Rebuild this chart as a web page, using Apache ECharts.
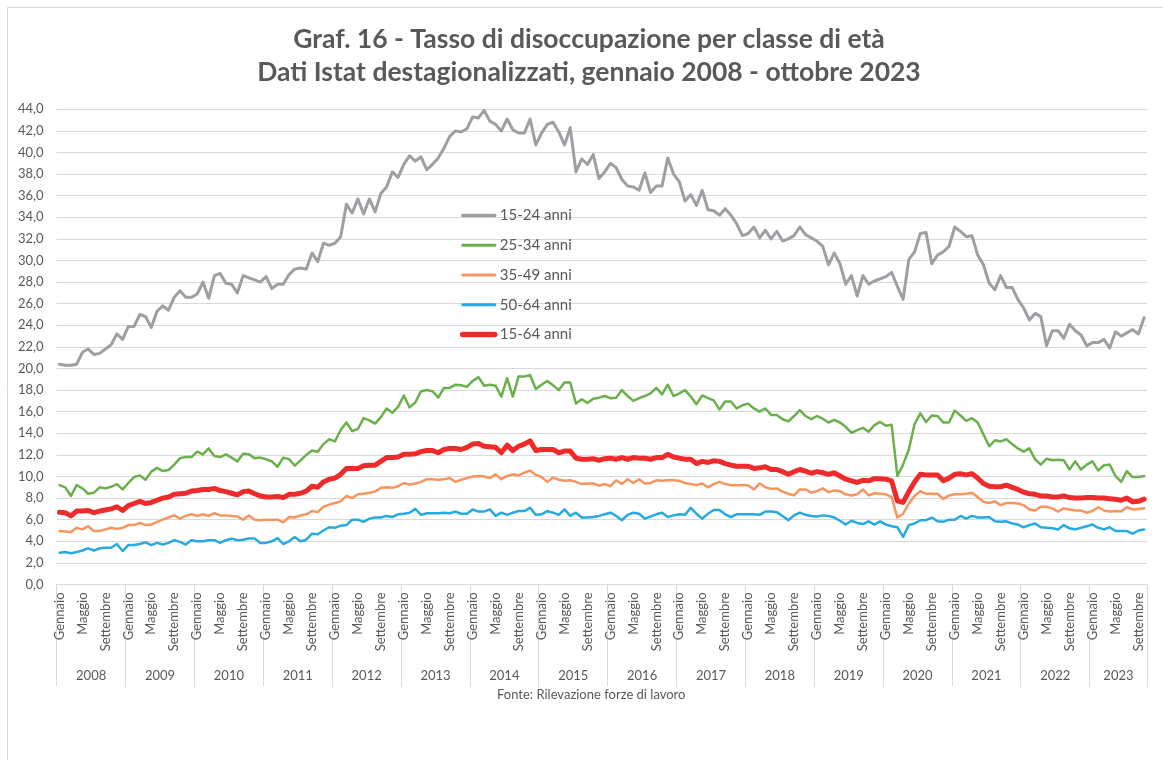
<!DOCTYPE html>
<html lang="it">
<head>
<meta charset="utf-8">
<title>Graf. 16 - Tasso di disoccupazione per classe di età</title>
<script src="https://cdn.jsdelivr.net/npm/echarts@6/dist/echarts.min.js"></script>
<style>
  html, body { margin: 0; padding: 0; background: #fff; }
  #chart { width: 1163px; height: 760px; }
</style>
</head>
<body>
<div id="chart"></div>
<script>
const anni = [2008, 2009, 2010, 2011, 2012, 2013, 2014, 2015, 2016, 2017, 2018, 2019, 2020, 2021, 2022, 2023]
const nomiMesi = ['Gennaio', 'Febbraio', 'Marzo', 'Aprile', 'Maggio', 'Giugno',
  'Luglio', 'Agosto', 'Settembre', 'Ottobre', 'Novembre', 'Dicembre']
const mesiUltimoAnno = 10 // dati fino a ottobre 2023

const classi = ['15-24 anni', '25-34 anni', '35-49 anni', '50-64 anni', '15-64 anni']

// valori mensili, una riga per anno
const anni15_24 = [
  20.4, 20.3, 20.3, 20.4, 21.5, 21.8, 21.3, 21.4, 21.8, 22.2, 23.2, 22.7,
  23.9, 23.9, 25.0, 24.8, 23.8, 25.3, 25.8, 25.4, 26.6, 27.2, 26.6, 26.6,
  26.9, 28.0, 26.5, 28.6, 28.8, 27.9, 27.8, 27.0, 28.6, 28.4, 28.2, 28.0,
  28.5, 27.4, 27.8, 27.8, 28.7, 29.2, 29.3, 29.2, 30.7, 29.9, 31.6, 31.4,
  31.6, 32.2, 35.2, 34.4, 35.7, 34.3, 35.7, 34.5, 36.2, 36.8, 38.2, 37.7,
  38.9, 39.7, 39.2, 39.6, 38.4, 38.9, 39.5, 40.4, 41.5, 42.0, 41.9, 42.2,
  43.3, 43.2, 43.9, 42.9, 42.6, 42.0, 43.1, 42.1, 41.8, 41.8, 43.1, 40.7,
  41.8, 42.6, 42.8, 41.9, 40.7, 42.3, 38.2, 39.4, 38.9, 39.8, 37.6, 38.2,
  39.0, 38.6, 37.5, 36.9, 36.8, 36.5, 38.1, 36.3, 36.9, 36.9, 39.5, 38.0,
  37.3, 35.5, 36.1, 35.1, 36.5, 34.7, 34.6, 34.2, 34.8, 34.2, 33.4, 32.3,
  32.5, 33.1, 32.1, 32.8, 32.0, 32.7, 31.8, 32.0, 32.3, 33.1, 32.4, 32.1,
  31.8, 31.3, 29.6, 30.7, 29.7, 27.8, 28.6, 26.7, 28.6, 27.8, 28.1, 28.3,
  28.5, 28.9, 27.6, 26.4, 30.1, 30.8, 32.5, 32.6, 29.7, 30.5, 30.8, 31.3,
  33.1, 32.7, 32.2, 32.3, 30.5, 29.6, 27.9, 27.3, 28.6, 27.5, 27.5, 26.4,
  25.6, 24.5, 25.1, 24.8, 22.1, 23.5, 23.5, 22.8, 24.1, 23.5, 23.1, 22.1,
  22.4, 22.4, 22.7, 21.9, 23.4, 23.0, 23.3, 23.6, 23.2, 24.7,
]
const anni25_34 = [
  9.2, 9.0, 8.2, 9.2, 8.9, 8.4, 8.5, 9.0, 8.9, 9.05, 9.3, 8.8,
  9.4, 9.95, 10.1, 9.7, 10.45, 10.8, 10.5, 10.6, 11.1, 11.7, 11.8, 11.8,
  12.3, 12.05, 12.6, 11.9, 11.8, 12.05, 11.75, 11.4, 12.1, 12.05, 11.7, 11.75,
  11.6, 11.4, 10.9, 11.75, 11.6, 11.0, 11.5, 12.0, 12.4, 12.3, 13.0, 13.45,
  13.25, 14.3, 15.0, 14.2, 14.4, 15.4, 15.2, 14.9, 15.5, 16.3, 15.9, 16.45,
  17.5, 16.4, 16.85, 17.9, 18.0, 17.9, 17.3, 18.2, 18.2, 18.5, 18.45, 18.3,
  18.85, 19.2, 18.4, 18.5, 18.4, 17.4, 19.1, 17.4, 19.25, 19.25, 19.4, 18.1,
  18.5, 18.85, 18.45, 18.0, 18.7, 18.7, 16.75, 17.15, 16.8, 17.2, 17.3, 17.45,
  17.25, 17.3, 18.0, 17.45, 17.0, 17.25, 17.45, 17.7, 18.2, 17.6, 18.5, 17.45,
  17.7, 18.0, 17.4, 16.7, 17.5, 17.25, 17.05, 16.2, 16.95, 16.95, 16.3, 16.6,
  16.75, 16.3, 16.0, 16.3, 15.7, 15.7, 15.3, 15.1, 15.6, 16.15, 15.6, 15.3,
  15.6, 15.35, 15.0, 15.25, 15.0, 14.6, 14.05, 14.3, 14.5, 14.15, 14.75, 15.05,
  14.7, 14.8, 10.05, 11.1, 12.5, 14.85, 15.85, 15.05, 15.65, 15.6, 15.0, 15.0,
  16.1, 15.65, 15.15, 15.4, 15.0, 13.9, 12.8, 13.35, 13.25, 13.45, 13.0, 12.6,
  12.3, 12.6, 11.6, 11.1, 11.65, 11.5, 11.55, 11.5, 10.65, 11.4, 10.65, 11.1,
  11.4, 10.55, 11.05, 11.1, 10.05, 9.5, 10.5, 9.95, 9.95, 10.05,
]
const anni35_49 = [
  4.95, 4.9, 4.85, 5.25, 5.1, 5.4, 4.95, 4.95, 5.1, 5.25, 5.15, 5.25,
  5.5, 5.5, 5.7, 5.5, 5.55, 5.8, 6.0, 6.2, 6.4, 6.1, 6.35, 6.5,
  6.35, 6.5, 6.35, 6.6, 6.4, 6.4, 6.35, 6.3, 6.0, 6.4, 6.0, 5.95,
  6.0, 6.0, 6.0, 5.75, 6.25, 6.2, 6.4, 6.5, 6.8, 6.7, 7.2, 7.4,
  7.55, 7.7, 8.2, 8.0, 8.35, 8.4, 8.5, 8.6, 8.95, 9.0, 8.95, 9.1,
  9.4, 9.25, 9.35, 9.5, 9.75, 9.75, 9.7, 9.75, 9.85, 9.5, 9.7, 9.85,
  10.0, 10.05, 10.0, 9.85, 10.2, 9.75, 10.05, 10.2, 10.1, 10.35, 10.55, 10.15,
  9.95, 9.5, 9.9, 9.7, 9.6, 9.65, 9.5, 9.3, 9.35, 9.35, 9.15, 9.3,
  9.1, 9.65, 9.3, 9.75, 9.4, 9.75, 9.35, 9.4, 9.65, 9.6, 9.65, 9.65,
  9.6, 9.4, 9.3, 9.2, 9.35, 9.0, 9.3, 9.5, 9.3, 9.2, 9.2, 9.2,
  9.2, 8.8, 9.35, 9.0, 8.85, 8.9, 8.6, 8.4, 8.25, 8.8, 8.8, 8.5,
  8.65, 8.9, 8.55, 8.7, 8.65, 8.35, 8.25, 8.35, 8.8, 8.25, 8.45, 8.4,
  8.35, 8.1, 6.2, 6.55, 7.5, 8.2, 8.65, 8.4, 8.4, 8.4, 7.9, 8.25,
  8.35, 8.35, 8.4, 8.5, 8.1, 7.65, 7.55, 7.7, 7.35, 7.55, 7.55, 7.5,
  7.35, 6.95, 6.85, 7.2, 7.2, 7.05, 6.75, 7.05, 6.95, 6.85, 6.85, 6.65,
  6.8, 7.15, 6.85, 6.75, 6.8, 6.75, 7.15, 6.95, 7.0, 7.05,
]
const anni50_64 = [
  2.95, 3.0, 2.9, 3.0, 3.15, 3.35, 3.15, 3.35, 3.4, 3.4, 3.75, 3.1,
  3.65, 3.65, 3.75, 3.9, 3.65, 3.85, 3.7, 3.85, 4.1, 3.95, 3.7, 4.1,
  4.0, 4.0, 4.1, 4.1, 3.85, 4.1, 4.25, 4.1, 4.15, 4.25, 4.25, 3.85,
  3.85, 4.0, 4.3, 3.75, 4.0, 4.4, 4.0, 4.15, 4.7, 4.65, 5.0, 5.3,
  5.25, 5.45, 5.5, 6.0, 6.0, 5.8, 6.1, 6.2, 6.2, 6.35, 6.25, 6.5,
  6.55, 6.65, 7.0, 6.45, 6.6, 6.6, 6.6, 6.65, 6.6, 6.75, 6.55, 6.55,
  6.95, 6.75, 6.75, 6.95, 6.35, 6.65, 6.45, 6.65, 6.8, 6.8, 7.1, 6.45,
  6.5, 6.8, 6.65, 6.45, 6.95, 6.35, 6.65, 6.2, 6.2, 6.25, 6.35, 6.5,
  6.65, 6.35, 5.95, 6.45, 6.65, 6.55, 6.1, 6.3, 6.5, 6.65, 6.25, 6.4,
  6.5, 6.45, 7.1, 6.55, 6.1, 6.55, 6.9, 6.9, 6.5, 6.25, 6.5, 6.5,
  6.5, 6.5, 6.45, 6.75, 6.75, 6.7, 6.35, 5.95, 6.4, 6.65, 6.45, 6.35,
  6.3, 6.4, 6.35, 6.2, 5.9, 5.55, 5.9, 5.7, 5.6, 5.85, 5.55, 5.85,
  5.55, 5.4, 5.3, 4.4, 5.5, 5.65, 5.95, 5.95, 6.2, 5.85, 5.8, 6.0,
  6.0, 6.35, 6.1, 6.35, 6.2, 6.2, 6.25, 5.85, 5.8, 5.85, 5.65, 5.55,
  5.3, 5.5, 5.65, 5.3, 5.25, 5.2, 5.1, 5.5, 5.2, 5.1, 5.25, 5.4,
  5.55, 5.25, 5.1, 5.3, 4.95, 4.95, 4.95, 4.7, 5.0, 5.1,
]
const anni15_64 = [
  6.7, 6.65, 6.35, 6.8, 6.8, 6.85, 6.65, 6.8, 6.9, 7.0, 7.2, 6.85,
  7.3, 7.5, 7.7, 7.5, 7.6, 7.8, 8.0, 8.1, 8.35, 8.4, 8.45, 8.65,
  8.7, 8.8, 8.8, 8.9, 8.7, 8.6, 8.45, 8.3, 8.6, 8.65, 8.4, 8.2,
  8.1, 8.1, 8.15, 8.05, 8.35, 8.35, 8.45, 8.65, 9.1, 9.0, 9.5, 9.75,
  9.85, 10.2, 10.75, 10.75, 10.75, 11.0, 11.05, 11.05, 11.4, 11.75, 11.75, 11.8,
  12.05, 12.05, 12.1, 12.3, 12.4, 12.4, 12.2, 12.5, 12.6, 12.6, 12.5, 12.7,
  13.0, 13.05, 12.8, 12.75, 12.7, 12.2, 12.9, 12.4, 12.8, 13.0, 13.3, 12.4,
  12.5, 12.5, 12.5, 12.2, 12.35, 12.35, 11.7, 11.6, 11.6, 11.65, 11.5, 11.65,
  11.7, 11.6, 11.75, 11.6, 11.75, 11.7, 11.7, 11.6, 11.75, 11.75, 12.05, 11.8,
  11.7, 11.6, 11.6, 11.2, 11.4, 11.3, 11.45, 11.4, 11.2, 11.05, 10.95, 10.95,
  10.95, 10.75, 10.8, 10.9, 10.65, 10.65, 10.45, 10.2, 10.45, 10.65, 10.5, 10.3,
  10.45, 10.35, 10.2, 10.35, 10.05, 9.75, 9.6, 9.45, 9.65, 9.6, 9.8, 9.8,
  9.75, 9.6, 7.75, 7.6, 8.6, 9.5, 10.2, 10.15, 10.15, 10.15, 9.6, 9.85,
  10.2, 10.25, 10.15, 10.25, 9.85, 9.35, 9.1, 9.05, 9.05, 9.2, 9.0, 8.8,
  8.55, 8.4, 8.35, 8.2, 8.2, 8.1, 8.1, 8.2, 8.05, 8.0, 8.0, 8.05,
  8.05, 8.0, 8.0, 7.95, 7.9, 7.8, 8.0, 7.65, 7.7, 7.9,
]

// categorie mensili: "Gennaio 2008" ... "Ottobre 2023"
const mesi = []
anni.forEach((anno, k) => {
  const n = k === anni.length - 1 ? mesiUltimoAnno : 12
  for (let m = 0; m < n; m++) mesi.push({ mese: m, anno, mesiAnno: n })
})
const categorie = mesi.map((d) => nomiMesi[d.mese] + ' ' + d.anno)

const font = 'Lato, "Open Sans", sans-serif'
const testo = '#595959'
const griglia = '#d9d9d9'

const stili = [
  { color: '#9d9fa3', width: 3 },
  { color: '#6ab04c', width: 2.5 },
  { color: '#f7955f', width: 2.5 },
  { color: '#27aae1', width: 2.5 },
  { color: '#ee2a2a', width: 5 },
]
const valori = [anni15_24, anni25_34, anni35_49, anni50_64, anni15_64]

const chart = echarts.init(document.getElementById('chart'), null, { renderer: 'canvas' })

chart.setOption({
  animation: false,
  backgroundColor: '#fff',
  textStyle: { fontFamily: font },
  title: {
    text: 'Graf. 16 - Tasso di disoccupazione per classe di età\nDati Istat destagionalizzati, gennaio 2008 - ottobre 2023',
    left: 584,
    top: 18,
    textAlign: 'center',
    textStyle: {
      fontFamily: font,
      fontSize: 26.5,
      fontWeight: 'bold',
      color: testo,
      lineHeight: 33,
    },
  },
  legend: {
    orient: 'vertical',
    left: 460,
    top: 208,
    padding: 0,
    itemWidth: 32,
    itemHeight: 14,
    itemGap: 14.75,
    // solo la linea, senza simbolo
    itemStyle: { opacity: 0 },
    textStyle: { fontFamily: font, fontSize: 15, color: testo },
    data: classi.map((nome, k) => ({
      name: nome,
      lineStyle: { width: stili[k].width + 0.5, cap: 'round' },
    })),
  },
  grid: { left: 56.6, right: 16, top: 109.3, bottom: 175.5 },
  xAxis: [
    {
      type: 'category',
      data: categorie,
      boundaryGap: true,
      axisLine: { lineStyle: { color: griglia } },
      axisTick: { show: false },
      axisLabel: {
        interval: (i) => mesi[i].mese % 4 === 0,
        rotate: 90,
        margin: 8,
        fontSize: 13,
        color: testo,
        formatter: (v) => v.split(' ')[0],
      },
      splitLine: { show: false },
    },
    {
      type: 'category',
      data: categorie,
      position: 'bottom',
      boundaryGap: true,
      axisLine: { show: false },
      axisTick: {
        show: true,
        interval: (i) => mesi[i].mese === 0,
        length: 102,
        lineStyle: { color: griglia },
      },
      axisLabel: {
        interval: (i) => mesi[i].mese === Math.floor(mesi[i].mesiAnno / 2) - 1,
        margin: 85,
        fontSize: 13,
        color: testo,
        padding: [0, 0, 0, 6],
        formatter: (v) => v.split(' ')[1],
      },
      splitLine: { show: false },
    },
  ],
  yAxis: {
    type: 'value',
    min: 0,
    max: 44,
    interval: 2,
    axisLine: { show: false },
    axisTick: { show: false },
    axisLabel: {
      margin: 13,
      fontSize: 13,
      color: testo,
      formatter: (v) => v.toFixed(1).replace('.', ','),
    },
    splitLine: { lineStyle: { color: griglia, width: 1 } },
  },
  series: classi.map((nome, k) => ({
    name: nome,
    type: 'line',
    data: valori[k],
    symbol: 'none',
    smooth: false,
    itemStyle: { color: stili[k].color },
    lineStyle: { color: stili[k].color, width: stili[k].width, cap: 'round', join: 'round' },
    z: 2 + k,
  })),
  graphic: [
    {
      type: 'rect',
      silent: true,
      shape: { x: 7.5, y: 7.5, width: 1200, height: 800 },
      style: { fill: 'none', stroke: griglia, lineWidth: 1 },
    },
    {
      type: 'text',
      left: 497,
      top: 688,
      style: {
        text: 'Fonte: Rilevazione forze di lavoro',
        fontFamily: font,
        fontSize: 13,
        fill: testo,
      },
    },
  ],
})
</script>
</body>
</html>
